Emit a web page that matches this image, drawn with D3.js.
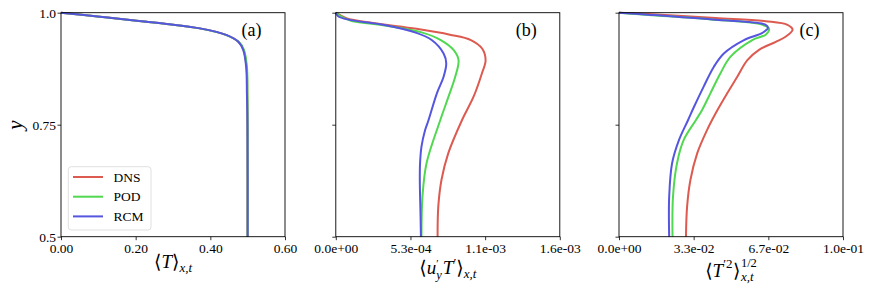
<!DOCTYPE html>
<html>
<head>
<meta charset="utf-8">
<script src="https://cdn.jsdelivr.net/npm/d3@7"></script>
<style>
  body { margin: 0; background: #fff; }
  svg text { font-family: "Liberation Serif", "DejaVu Serif", serif; fill: #000; }
</style>
</head>
<body>
<svg id="chart" width="872" height="297"></svg>
<script>
// ---- data ----
const seriesNames = ["DNS", "POD", "RCM"];
const seriesColors = ["#dc5a50", "#50d850", "#5555e0"];

// panel (a): mean temperature
const yA = [1.0, 0.991, 0.982, 0.975, 0.965, 0.950, 0.935, 0.917, 0.879, 0.820, 0.75, 0.5];
const meanT_DNS = [0, 0.1045, 0.203, 0.283, 0.372, 0.444, 0.475, 0.489, 0.497, 0.499, 0.4995, 0.4995];
const meanT_POD = [0, 0.1040, 0.202, 0.282, 0.371, 0.443, 0.476, 0.490, 0.498, 0.4995, 0.4998, 0.4998];
const meanT_RCM = [0, 0.1045, 0.203, 0.283, 0.372, 0.444, 0.475, 0.488, 0.496, 0.498, 0.4995, 0.5];

// panel (b): turbulent heat flux
const yB_DNS = [1.0, 0.988, 0.977, 0.964, 0.951, 0.939, 0.92, 0.894, 0.865, 0.8125, 0.760, 0.686, 0.627, 0.567, 0.5];
const flux_DNS = [0, 7.5e-5, 2.66e-4, 5.76e-4, 8.15e-4, 9.65e-4, 1.045e-3, 1.070e-3, 1.044e-3, 9.84e-4, 9.01e-4, 8.03e-4, 7.55e-4, 7.32e-4, 7.27e-4];
const yB_POD = [1.0, 0.983, 0.972, 0.955, 0.939, 0.917, 0.894, 0.857, 0.8125, 0.760, 0.664, 0.589, 0.5];
const flux_POD = [0, 9.9e-5, 3.38e-4, 6.24e-4, 7.5e-4, 8.41e-4, 8.77e-4, 8.53e-4, 8.05e-4, 7.46e-4, 6.48e-4, 6.19e-4, 6.12e-4];
const yB_RCM = [1.0, 0.992, 0.984, 0.973, 0.955, 0.939, 0.909, 0.887, 0.857, 0.820, 0.760, 0.738, 0.701, 0.665, 0.627, 0.552, 0.5];
const flux_RCM = [0, 1.6e-5, 9.9e-5, 3.38e-4, 5.76e-4, 6.85e-4, 7.70e-4, 7.89e-4, 7.70e-4, 7.22e-4, 6.62e-4, 6.38e-4, 6.12e-4, 6.02e-4, 6.0e-4, 6.05e-4, 6.08e-4];

// panel (c): rms temperature fluctuation
const yC_DNS = [1.0, 0.997, 0.988, 0.981, 0.973, 0.962, 0.947, 0.935, 0.917, 0.894, 0.857, 0.820, 0.775, 0.738, 0.686, 0.627, 0.567, 0.5];
const rms_DNS = [0, 0.0131, 0.0431, 0.0655, 0.0752, 0.0775, 0.0745, 0.0700, 0.0625, 0.0573, 0.0528, 0.0483, 0.0431, 0.0393, 0.0349, 0.0319, 0.0304, 0.0299];
const yC_POD = [1.0, 0.995, 0.985, 0.973, 0.964, 0.951, 0.939, 0.902, 0.865, 0.820, 0.783, 0.760, 0.716, 0.664, 0.589, 0.5];
const rms_POD = [0, 0.0131, 0.0410, 0.0640, 0.0670, 0.0655, 0.0595, 0.0498, 0.0453, 0.0408, 0.0371, 0.0343, 0.0289, 0.0259, 0.0241, 0.0239];
const yC_RCM = [1.0, 0.9955, 0.984, 0.973, 0.966, 0.955, 0.939, 0.909, 0.879, 0.835, 0.790, 0.760, 0.716, 0.664, 0.589, 0.5];
const rms_RCM = [0, 0.0131, 0.0431, 0.0655, 0.0665, 0.0640, 0.0558, 0.0468, 0.0423, 0.0378, 0.0335, 0.0308, 0.0268, 0.0237, 0.0224, 0.0224];

const yTicks = [0.5, 0.75, 1.0];
const yTickLabels = ["0.5", "0.75", "1.0"];
const xTicksA = [0, 0.2, 0.4, 0.6];
const xTicksB = [0, 1.6e-3 / 3, 2 * 1.6e-3 / 3, 1.6e-3];
const xTicksC = [0, 0.1 / 3, 0.2 / 3, 0.1];
const panelTags = ["(a)", "(b)", "(c)"];

// ---- layout ----
const svg = d3.select("#chart");
const plotTop = 12.7, size = 224;
const lefts = [61, 335.8, 619];
const tickFont = 13.5;
const serif = "'Liberation Serif', 'DejaVu Serif', serif";

// matplotlib-like scientific label: 5.3e-04
function sci(v) {
    if (v === 0) return "0.0e+00";
    const [m, e] = v.toExponential(1).split("e");
    const n = parseInt(e);
    return `${m}e${n < 0 ? "-" : "+"}${String(Math.abs(n)).padStart(2, "0")}`;
}

const panels = [
    {
        domain: [0, 0.6], ticks: xTicksA, fmt: d3.format(".2f"),
        series: [[yA, meanT_DNS], [yA, meanT_POD], [yA, meanT_RCM]]
    },
    {
        domain: [0, 1.6e-3], ticks: xTicksB, fmt: sci,
        series: [[yB_DNS, flux_DNS], [yB_POD, flux_POD], [yB_RCM, flux_RCM]]
    },
    {
        domain: [0, 0.1], ticks: xTicksC, fmt: sci,
        series: [[yC_DNS, rms_DNS], [yC_POD, rms_POD], [yC_RCM, rms_RCM]]
    }
];

const y = d3.scaleLinear().domain([0.5, 1.0]).range([plotTop + size, plotTop]);

panels.forEach((p, i) => {
    const left = lefts[i];
    const x = d3.scaleLinear().domain(p.domain).range([left, left + size]);
    const g = svg.append("g").attr("class", `panel-${i}`);

    const line = d3.line()
        .x(d => x(d[0]))
        .y(d => y(d[1]))
        .curve(d3.curveCatmullRom.alpha(0.5));

    p.series.forEach(([ys, xs], k) => {
        const pts = xs.map((v, j) => [v, ys[j]]);
        g.append("path")
            .datum(pts)
            .attr("fill", "none")
            .attr("stroke", seriesColors[k])
            .attr("stroke-width", 2)
            .attr("stroke-linejoin", "round")
            .attr("d", line);
    });

    // x axis
    const xAxis = g.append("g")
        .attr("transform", `translate(0,${plotTop + size})`)
        .call(d3.axisBottom(x).tickValues(p.ticks).tickFormat(p.fmt).tickSize(3.5).tickPadding(3));
    xAxis.select(".domain").remove();

    // y axis (labels only on first panel)
    const yAxis = g.append("g")
        .attr("transform", `translate(${left},0)`)
        .call(d3.axisLeft(y).tickValues(yTicks)
            .tickFormat((d, j) => i === 0 ? yTickLabels[j] : "")
            .tickSize(3.5).tickPadding(1.5));
    yAxis.select(".domain").remove();

    g.selectAll(".tick text")
        .attr("font-size", tickFont)
        .style("font-family", serif)
        .style("font-size", tickFont + "px");
    g.selectAll(".tick line").attr("stroke", "#000").attr("stroke-width", 0.8);

    // frame
    g.append("rect")
        .attr("x", left).attr("y", plotTop)
        .attr("width", size).attr("height", size)
        .attr("fill", "none").attr("stroke", "#000").attr("stroke-width", 0.9);

    // tag
    g.append("text")
        .attr("x", left + 190.5).attr("y", plotTop + 23.5)
        .attr("text-anchor", "middle")
        .attr("font-size", 18)
        .text(panelTags[i]);
});

// ---- x labels (math), laid out piece by piece ----
// piece: { t, it, fs, dy, dx, stack }  stack = start at previous piece's x
function mathLabel(cx, base, pieces) {
    const g = svg.append("g");
    let cursor = 0, prevStart = 0, prevEnd = 0;
    pieces.forEach(pc => {
        const start = pc.stack ? prevStart : cursor;
        const el = g.append("text")
            .attr("x", start + (pc.dx || 0))
            .attr("y", base + (pc.dy || 0))
            .attr("font-size", pc.fs || 19)
            .attr("font-style", pc.it ? "italic" : "normal")
            .text(pc.t);
        const end = start + (pc.dx || 0) + el.node().getComputedTextLength();
        cursor = pc.stack ? Math.max(prevEnd, end) : end;
        prevStart = start;
        prevEnd = end;
    });
    g.attr("transform", `translate(${cx - cursor / 2},0)`);
}

mathLabel(lefts[0] + size / 2, 268, [
    { t: "⟨" }, { t: "T", it: true }, { t: "⟩" },
    { t: "x,t", it: true, fs: 13, dy: 4 }
]);

mathLabel(lefts[1] + size / 2, 274, [
    { t: "⟨" }, { t: "u", it: true },
    { t: "′", fs: 11, dy: -7 },
    { t: "y", it: true, fs: 12.5, dy: 5, stack: true },
    { t: "T", it: true, dx: 1 }, { t: "′", fs: 13, dy: -7 },
    { t: "⟩" },
    { t: "x,t", it: true, fs: 13, dy: 4 }
]);

mathLabel(lefts[2] + size / 2, 277, [
    { t: "⟨" }, { t: "T", it: true },
    { t: "′2", fs: 13, dy: -9 },
    { t: "⟩", dx: 0.5 },
    { t: "1/2", fs: 12.5, dy: -10, dx: 0.5 },
    { t: "x,t", it: true, fs: 13, dy: 4, dx: 0.5, stack: true }
]);

// y label
svg.append("text")
    .attr("transform", "translate(22,125) rotate(-90)")
    .attr("text-anchor", "middle")
    .attr("font-size", 21)
    .attr("font-style", "italic")
    .text("y");

// ---- legend ----
const legend = svg.append("g").attr("class", "legend");
legend.append("rect")
    .attr("x", 68.3).attr("y", 166.7)
    .attr("width", 82.7).attr("height", 63.3)
    .attr("rx", 3)
    .attr("fill", "#fff").attr("fill-opacity", 0.8)
    .attr("stroke", "#d8d8d8").attr("stroke-width", 0.8);

seriesNames.forEach((name, k) => {
    const ly = 177 + k * 19.7;
    legend.append("line")
        .attr("x1", 73).attr("x2", 103)
        .attr("y1", ly).attr("y2", ly)
        .attr("stroke", seriesColors[k]).attr("stroke-width", 2);
    legend.append("text")
        .attr("x", 113.5).attr("y", ly + 4.5)
        .attr("font-size", 13.5)
        .text(name);
});
</script>
</body>
</html>
